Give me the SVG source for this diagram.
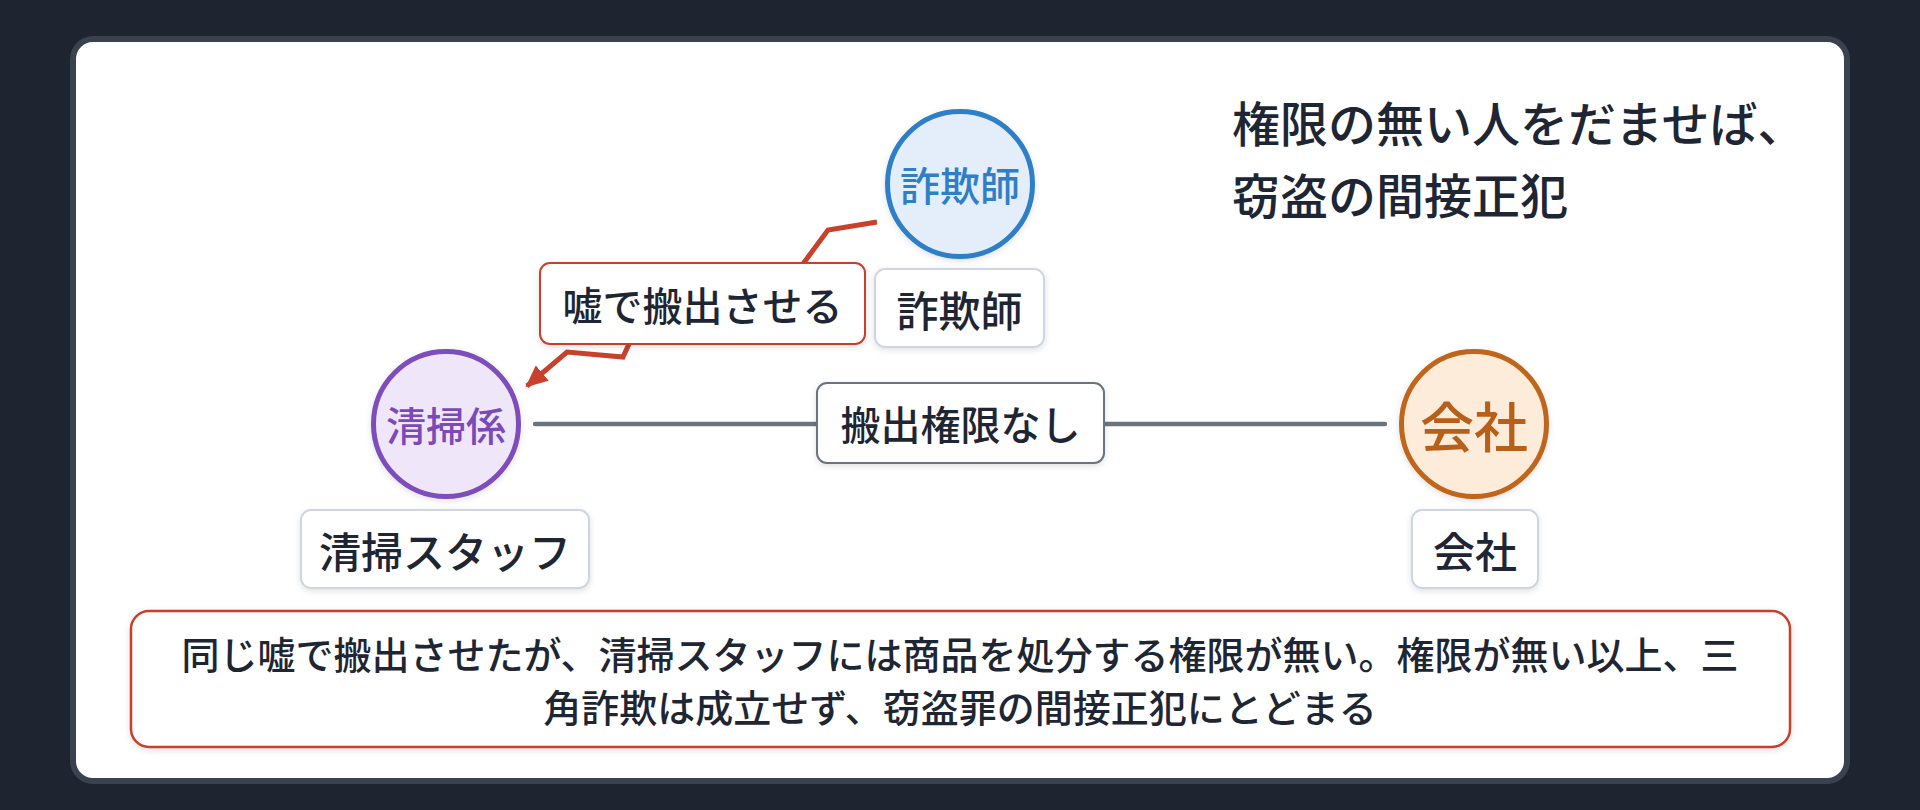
<svg xmlns="http://www.w3.org/2000/svg" width="1920" height="810" viewBox="0 0 1920 810">
<defs>
<filter id="sh" x="-20%" y="-20%" width="140%" height="150%">
<feDropShadow dx="0" dy="2" stdDeviation="3" flood-color="#000" flood-opacity="0.12"/>
</filter>
<marker id="arr" markerUnits="userSpaceOnUse" markerWidth="24" markerHeight="20" refX="20" refY="10" orient="auto">
<path d="M0,0 L22,10 L0,20 Z" fill="#c8412b"/>
</marker>
<style>
text{font-family:"Noto Sans CJK JP","Noto Sans",sans-serif;fill:#1e2633;font-weight:500}
.c{text-anchor:middle;dominant-baseline:central}
.lbl{fill:#fff;stroke:#cdd6e2;stroke-width:2}
.nl{font-size:42px}
.el{font-size:40px}
</style>
</defs>
<rect width="1920" height="810" fill="#1e2530"/>
<rect x="73" y="39" width="1774" height="742" rx="20" fill="#fff" stroke="#3a4250" stroke-width="6"/>

<g id="title">
<text x="1232" y="142" font-size="48">権限の無い人をだませば、</text>
<text x="1232" y="214" font-size="48">窃盗の間接正犯</text>
</g>

<g id="connectors">
<line x1="535" y1="424" x2="1385" y2="424" stroke="#6b7380" stroke-width="4.5" stroke-linecap="round"/>
<polyline points="877,222 828,230 780,295 640,320 623,357 567,352 527,386" fill="none" stroke="#c8412b" stroke-width="5" stroke-linejoin="miter" marker-end="url(#arr)"/>
</g>

<g id="edge-uso">
<rect x="540" y="263" width="325" height="81" rx="10" fill="#fff" stroke="#c8412b" stroke-width="2" filter="url(#sh)"/>
<text class="c el" x="702.5" y="303.5">嘘で搬出させる</text>
</g>
<g id="edge-kengen">
<rect x="817" y="383" width="287" height="80" rx="10" fill="#fff" stroke="#6b7380" stroke-width="2" filter="url(#sh)"/>
<text class="c el" x="960.5" y="423">搬出権限なし</text>
</g>

<g id="node-sagishi">
<circle cx="960" cy="184" r="72.5" fill="#e4eefa" stroke="#2f7fc8" stroke-width="5" filter="url(#sh)"/>
<text class="c" x="960" y="184" font-size="40" style="fill:#2f7ec8">詐欺師</text>
<rect class="lbl" x="875" y="269" width="169" height="78" rx="10" filter="url(#sh)"/>
<text class="c nl" x="959.5" y="308">詐欺師</text>
</g>

<g id="node-seisou">
<circle cx="446" cy="424" r="72.5" fill="#efe6fa" stroke="#7c4dbb" stroke-width="5" filter="url(#sh)"/>
<text class="c" x="446" y="424" font-size="40" style="fill:#7a4bb8">清掃係</text>
<rect class="lbl" x="301" y="510" width="288" height="78" rx="10" filter="url(#sh)"/>
<text class="c nl" x="445" y="549">清掃スタッフ</text>
</g>

<g id="node-kaisha">
<circle cx="1474" cy="424" r="72.5" fill="#fdecda" stroke="#c0651a" stroke-width="5" filter="url(#sh)"/>
<text class="c" x="1474" y="424" font-size="54" style="fill:#b8601a">会社</text>
<rect class="lbl" x="1412" y="510" width="126" height="78" rx="10" filter="url(#sh)"/>
<text class="c nl" x="1475" y="549">会社</text>
</g>

<g id="note">
<rect x="131" y="611" width="1659" height="136" rx="18" fill="#fff" stroke="#c8412b" stroke-width="2.5" filter="url(#sh)"/>
<text x="960" y="669" font-size="38" text-anchor="middle">同じ嘘で搬出させたが、清掃スタッフには商品を処分する権限が無い。権限が無い以上、三</text>
<text x="960" y="722" font-size="38" text-anchor="middle">角詐欺は成立せず、窃盗罪の間接正犯にとどまる</text>
</g>
</svg>
